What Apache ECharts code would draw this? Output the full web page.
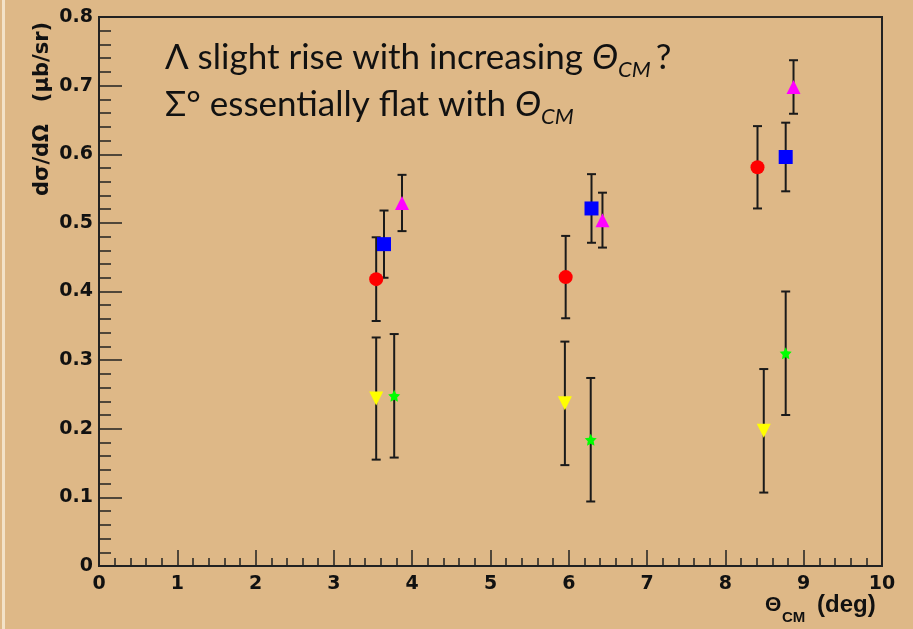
<!DOCTYPE html>
<html>
<head>
<meta charset="utf-8">
<script src="https://cdn.jsdelivr.net/npm/echarts@6/dist/echarts.min.js"></script>
<style>html,body{margin:0;padding:0;background:#DEB887;}#c{width:913px;height:629px;}</style>
</head>
<body>
<div id="c"></div>
<script>
// ---- data ----
const xTicks = [0,1,2,3,4,5,6,7,8,9,10];
const yTicks = [0,0.1,0.2,0.3,0.4,0.5,0.6,0.7,0.8];

const redX = [3.54, 5.96, 8.41];
const redY = [0.418, 0.421, 0.581];
const redErr = [0.061, 0.060, 0.060];

const blueX = [3.64, 6.29, 8.77];
const blueY = [0.469, 0.521, 0.596];
const blueErr = [0.049, 0.050, 0.050];

const magentaX = [3.87, 6.43, 8.87];
const magentaY = [0.529, 0.504, 0.698];
const magentaErr = [0.041, 0.040, 0.039];

const yellowX = [3.54, 5.95, 8.49];
const yellowY = [0.244, 0.237, 0.197];
const yellowErr = [0.089, 0.090, 0.090];

const greenX = [3.77, 6.28, 8.77];
const greenY = [0.248, 0.184, 0.310];
const greenErr = [0.090, 0.090, 0.090];

const annotLine1 = 'Λ slight rise with increasing ';
const annotLine2 = 'Σ° essentially flat with ';

// ---- build ----
function pts(xs, ys, es) { return xs.map((x, i) => [x, ys[i], es[i]]); }
const groups = [
  {x: redX, y: redY, e: redErr, color: '#ff0000', symbol: 'circle', size: 14, rot: 0},
  {x: blueX, y: blueY, e: blueErr, color: '#0000ff', symbol: 'rect', size: 14, rot: 0},
  {x: magentaX, y: magentaY, e: magentaErr, color: '#ff00ff', symbol: 'triangle', size: 14, rot: 0},
  {x: yellowX, y: yellowY, e: yellowErr, color: '#ffff00', symbol: 'triangle', size: 14, rot: 180},
  {x: greenX, y: greenY, e: greenErr, color: '#00ff00',
   symbol: 'path://M0,-10 L2.9,-4 9.5,-3.1 4.7,1.5 5.9,8.1 0,5 -5.9,8.1 -4.7,1.5 -9.5,-3.1 -2.9,-4 Z', size: 12, rot: 0}
];

const series = [];
groups.forEach(g => {
  series.push({
    type: 'custom',
    data: pts(g.x, g.y, g.e),
    z: 2,
    silent: true,
    renderItem: function (params, api) {
      const x = api.value(0), y = api.value(1), e = api.value(2);
      const top = api.coord([x, y + e]);
      const bot = api.coord([x, y - e]);
      const cap = 4.5;
      const st = {stroke: '#1a1a1a', lineWidth: 2};
      return {
        type: 'group',
        children: [
          {type: 'line', shape: {x1: top[0], y1: top[1], x2: bot[0], y2: bot[1]}, style: st},
          {type: 'line', shape: {x1: top[0] - cap, y1: top[1], x2: top[0] + cap, y2: top[1]}, style: st},
          {type: 'line', shape: {x1: bot[0] - cap, y1: bot[1], x2: bot[0] + cap, y2: bot[1]}, style: st}
        ]
      };
    }
  });
  series.push({
    type: 'scatter',
    data: g.x.map((x, i) => [x, g.y[i]]),
    symbol: g.symbol,
    symbolSize: g.size,
    symbolRotate: g.rot,
    itemStyle: {color: g.color, opacity: 1},
    z: 3,
    silent: true
  });
});

const axisFont = {fontFamily: 'DejaVu Sans', fontWeight: 'bold', fontSize: 19, color: '#111'};
const lineCol = '#222';

const chart = echarts.init(document.getElementById('c'), null, {renderer: 'canvas'});
chart.setOption({
  backgroundColor: '#DEB887',
  animation: false,
  grid: {left: 99, right: 31, top: 17, bottom: 63, show: true, borderColor: lineCol, borderWidth: 2, backgroundColor: 'transparent'},
  xAxis: {
    type: 'value', min: xTicks[0], max: xTicks[xTicks.length - 1], interval: 1,
    axisLine: {show: true, lineStyle: {color: lineCol, width: 2}},
    axisTick: {show: true, inside: true, length: 16, lineStyle: {color: lineCol, width: 1.5}},
    minorTick: {show: true, splitNumber: 5, length: 8, lineStyle: {color: lineCol, width: 1.5}},
    splitLine: {show: false},
    axisLabel: Object.assign({margin: 9}, axisFont)
  },
  yAxis: {
    type: 'value', min: yTicks[0], max: yTicks[yTicks.length - 1], interval: 0.1,
    axisLine: {show: true, lineStyle: {color: lineCol, width: 2}},
    axisTick: {show: true, inside: true, length: 23, lineStyle: {color: lineCol, width: 1.5}},
    minorTick: {show: true, splitNumber: 5, length: 12, lineStyle: {color: lineCol, width: 1.5}},
    splitLine: {show: false},
    axisLabel: Object.assign({margin: 6, formatter: v => (v === 0 ? '0' : v.toFixed(1))}, axisFont)
  },
  series: series,
  graphic: [
    {type: 'rect', left: 2, top: 0, shape: {width: 3, height: 629}, style: {fill: '#f3e2c8'}, silent: true},
    {type: 'text', x: 43, y: 196, rotation: Math.PI / 2, silent: true,
     style: {text: 'dσ/dΩ   (μb/sr)', font: 'bold 21px "DejaVu Sans"', fill: '#111', textAlign: 'left', textVerticalAlign: 'middle'}},
    {type: 'text', x: 765, y: 605, silent: true,
     style: {text: 'Θ', font: 'bold 21px "Liberation Sans"', fill: '#111', textAlign: 'left', textVerticalAlign: 'middle'}},
    {type: 'text', x: 782, y: 618, silent: true,
     style: {text: 'CM', font: 'bold 15px "Liberation Sans"', fill: '#111', textAlign: 'left', textVerticalAlign: 'middle'}},
    {type: 'text', x: 817, y: 605, silent: true,
     style: {text: '(deg)', font: 'bold 24px "Liberation Sans"', fill: '#111', textAlign: 'left', textVerticalAlign: 'middle'}},
    {type: 'text', x: 165, y: 40, silent: true,
     style: {
       text: '{n|' + annotLine1 + '}{i|Θ}{s|CM}{n|?}\n{n|' + annotLine2 + '}{i|Θ}{s|CM}',
       fill: '#111',
       rich: {
         n: {fontFamily: 'Lato', fontSize: 35, lineHeight: 47, verticalAlign: 'top', color: '#111'},
         i: {fontFamily: 'Lato', fontStyle: 'italic', fontSize: 35, lineHeight: 47, verticalAlign: 'top', color: '#111'},
         s: {fontFamily: 'Lato', fontStyle: 'italic', fontSize: 22, lineHeight: 47, verticalAlign: 'top', padding: [19, 5, 0, 0], color: '#111'}
       }
     }}
  ]
});
</script>
</body>
</html>
